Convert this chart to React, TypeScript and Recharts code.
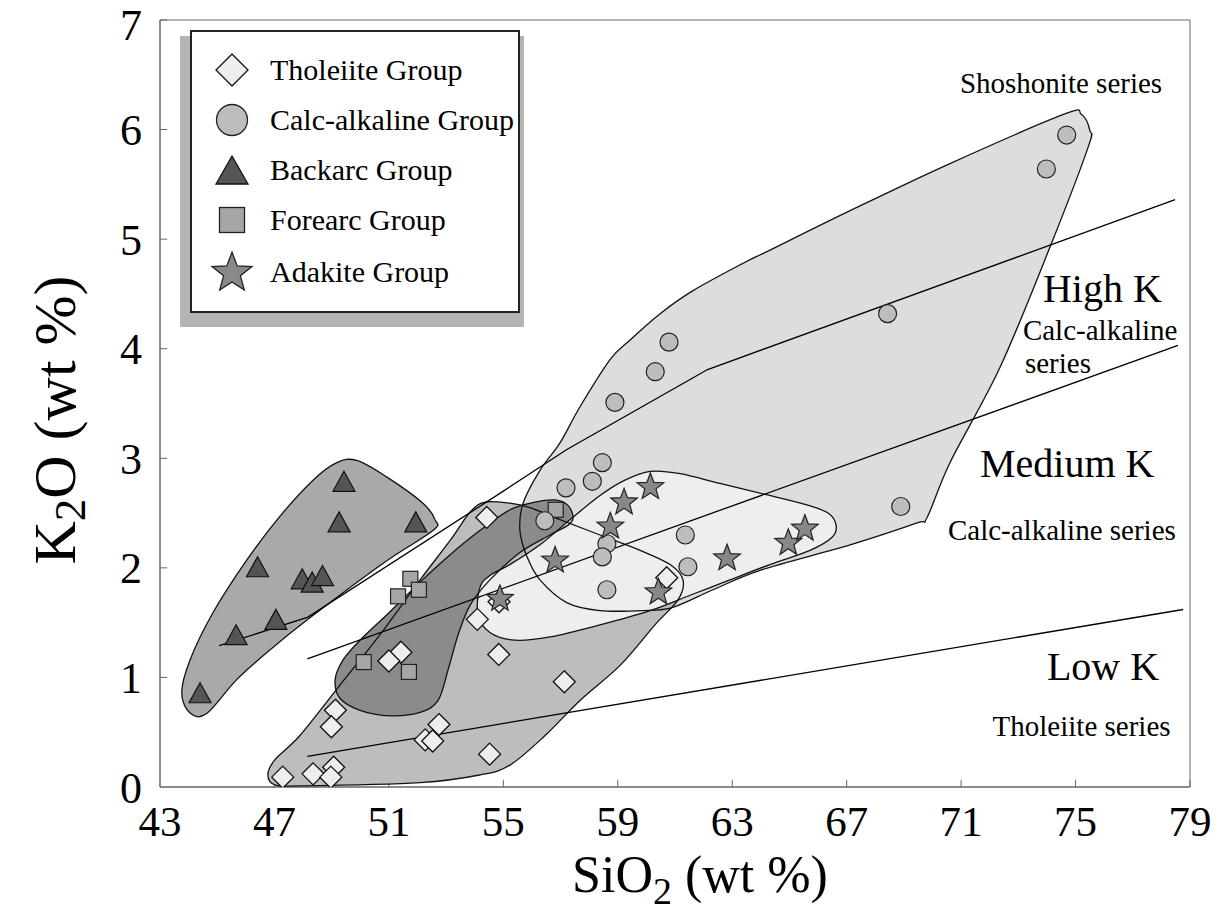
import React from 'react';
import {
  ScatterChart,
  Scatter,
  XAxis,
  YAxis,
  ReferenceLine,
  ReferenceArea,
  ReferenceDot,
} from 'recharts';

// SiO2 (wt %) vs K2O (wt %) sample values
const tholeiite = [
  [51.42, 1.23], [51.0, 1.15], [54.84, 1.21], [57.13, 0.96], [49.13, 0.7],
  [48.99, 0.55], [52.75, 0.57], [52.27, 0.43], [52.53, 0.42], [54.52, 0.3],
  [47.29, 0.09], [48.35, 0.12], [49.07, 0.18], [48.97, 0.09], [54.42, 2.46],
  [60.71, 1.91], [54.09, 1.53], [54.85, 1.69],
];
const calcAlkaline = [
  [58.9, 3.51], [58.46, 2.96], [58.11, 2.79], [57.19, 2.73], [56.45, 2.43],
  [61.36, 2.3], [58.62, 2.22], [58.46, 2.1], [61.45, 2.01], [58.62, 1.8],
  [60.79, 4.06], [60.31, 3.79], [74.69, 5.95], [73.98, 5.64], [68.43, 4.32],
  [68.89, 2.56],
];
const backarc = [
  [49.43, 2.79], [49.26, 2.42], [51.94, 2.42], [46.41, 2.01], [47.97, 1.9],
  [48.32, 1.87], [48.68, 1.93], [47.05, 1.53], [45.66, 1.39], [44.4, 0.86],
];
const forearc = [
  [51.75, 1.9], [51.32, 1.74], [52.05, 1.8], [50.12, 1.14], [51.7, 1.05], [56.83, 2.53],
];
const adakite = [
  [60.14, 2.75], [59.22, 2.61], [58.74, 2.39], [56.81, 2.08], [62.82, 2.1],
  [64.96, 2.24], [65.54, 2.37], [60.42, 1.79], [54.88, 1.73],
];

// group fields (outline vertices)
const calcField = [
  [55.58, 2.34], [55.69, 2.59], [56.28, 2.89], [56.98, 3.14], [57.68, 3.47],
  [58.73, 3.9], [59.43, 4.08], [60.48, 4.32], [61.63, 4.53], [63.38, 4.78],
  [64.32, 4.9], [67.12, 5.26], [70.61, 5.69], [74.6, 6.14], [75.2, 6.14],
  [75.5, 5.99], [75.44, 5.84], [74.11, 4.93], [72.36, 3.83], [70.61, 2.96],
  [69.81, 2.46], [69.46, 2.41], [67.12, 2.21], [64.0, 1.98], [62.33, 1.8],
  [60.93, 1.64], [59.88, 1.61], [58.38, 1.61], [57.23, 1.68], [56.28, 1.89],
  [55.83, 2.1],
];
const tholeiiteField = [
  [46.77, 0.11], [47.02, 0.25], [47.89, 0.47], [49.29, 0.93], [50.69, 1.39],
  [52.09, 1.89], [53.14, 2.25], [53.84, 2.51], [54.36, 2.6], [55.23, 2.59],
  [55.93, 2.55], [56.98, 2.44], [58.38, 2.3], [59.78, 2.16], [60.83, 2.03],
  [61.28, 1.89], [61.11, 1.71], [60.3, 1.48], [59.08, 1.11], [57.68, 0.79],
  [56.46, 0.47], [55.23, 0.2], [54.18, 0.11], [52.09, 0.04], [47.89, 0.01],
  [47.02, 0.02],
];
const backarcField = [
  [49.18, 2.96], [49.88, 2.98], [50.92, 2.83], [52.19, 2.59], [52.61, 2.44],
  [52.54, 2.34], [50.79, 2.04], [48.17, 1.53], [46.84, 1.25], [45.68, 0.98],
  [44.63, 0.67], [44.05, 0.675], [43.76, 0.86], [44.05, 1.16], [44.85, 1.59],
  [46.03, 2.07], [47.19, 2.47], [48.35, 2.8],
];
const forearcField = [
  [57.44, 2.46], [57.26, 2.57], [56.81, 2.62], [56.11, 2.6], [55.23, 2.53],
  [54.18, 2.34], [53.14, 2.12], [52.09, 1.87], [51.04, 1.6], [49.99, 1.34],
  [49.4, 1.16], [49.12, 0.98], [49.29, 0.81], [49.99, 0.7], [51.04, 0.65],
  [52.09, 0.68], [52.72, 0.79], [53.07, 1.07], [53.42, 1.39], [53.84, 1.66],
  [54.53, 1.89], [55.58, 2.14], [56.63, 2.3], [57.26, 2.39],
];
const adakiteField = [
  [54.18, 1.82], [54.53, 1.93], [55.23, 2.03], [56.28, 2.21], [57.33, 2.44],
  [58.38, 2.66], [59.25, 2.8], [60.13, 2.88], [61.18, 2.86], [62.57, 2.77],
  [64.15, 2.67], [65.54, 2.58], [66.35, 2.5], [66.63, 2.39], [66.49, 2.28],
  [65.72, 2.16], [64.32, 2.03], [62.92, 1.89], [61.53, 1.75], [60.13, 1.61],
  [58.38, 1.48], [56.63, 1.37], [55.41, 1.34], [54.53, 1.41], [54.11, 1.57],
];

// series boundaries
const lowMediumLine = [[48.15, 0.28], [78.76, 1.62]];
const mediumHighLine = [[48.15, 1.17], [78.58, 4.03]];
const highShoshLine = [
  [45.07, 1.29], [48.17, 1.55], [54.88, 2.68], [57.22, 3.08], [62.14, 3.81], [78.48, 5.36],
];

const xTicks = [43, 47, 51, 55, 59, 63, 67, 71, 75, 79];
const yTicks = [0, 1, 2, 3, 4, 5, 6, 7];

const SERIF = "'Liberation Serif', 'DejaVu Serif', serif";
const W = 1212;
const H = 919;

const pts = (a: number[][]) => a.map(([x, y]) => ({ x, y }));

// annotation anchors (data coords, text starts here)
const notes = [
  { x: 70.96, y: 6.33, text: 'Shoshonite series', size: 29 },
  { x: 73.86, y: 4.43, text: 'High K', size: 40 },
  { x: 73.16, y: 4.08, text: 'Calc-alkaline', size: 29 },
  { x: 73.23, y: 3.78, text: 'series', size: 29 },
  { x: 71.66, y: 2.83, text: 'Medium K', size: 40 },
  { x: 70.54, y: 2.25, text: 'Calc-alkaline series', size: 29 },
  { x: 74.0, y: 0.98, text: 'Low K', size: 40 },
  { x: 72.1, y: 0.47, text: 'Tholeiite series', size: 29 },
];

function closedPath(p: { x: number; y: number }[]) {
  const n = p.length;
  let d = `M${p[0].x},${p[0].y}`;
  for (let i = 0; i < n; i++) {
    const p0 = p[(i - 1 + n) % n];
    const p1 = p[i];
    const p2 = p[(i + 1) % n];
    const p3 = p[(i + 2) % n];
    const c1x = p1.x + (p2.x - p0.x) / 6;
    const c1y = p1.y + (p2.y - p0.y) / 6;
    const c2x = p2.x - (p3.x - p1.x) / 6;
    const c2y = p2.y - (p3.y - p1.y) / 6;
    d += `C${c1x},${c1y} ${c2x},${c2y} ${p2.x},${p2.y}`;
  }
  return d + 'Z';
}

const noMark = () => <g />;
const fieldFill = (fill: string) => (lp: any) => (
  <path d={closedPath(lp.points)} fill={fill} stroke="none" />
);
const fieldEdge = (lp: any) => (
  <path d={closedPath(lp.points)} fill="none" stroke="#111" strokeWidth={1.3} />
);

// markers
const diamondPts = (cx: number, cy: number, r: number) =>
  `${cx},${cy - r} ${cx + r},${cy} ${cx},${cy + r} ${cx - r},${cy}`;
const trianglePts = (cx: number, cy: number, w: number, h: number) =>
  `${cx},${cy - h / 2} ${cx + w / 2},${cy + h / 2} ${cx - w / 2},${cy + h / 2}`;
const starPts = (cx: number, cy: number, R: number) => {
  const r = R * 0.42;
  const out: string[] = [];
  for (let i = 0; i < 10; i++) {
    const a = -Math.PI / 2 + (i * Math.PI) / 5;
    const rr = i % 2 === 0 ? R : r;
    out.push(`${cx + rr * Math.cos(a)},${cy + rr * Math.sin(a) + R * 0.1}`);
  }
  return out.join(' ');
};

const DiamondMark = (p: any) => (
  <polygon points={diamondPts(p.cx, p.cy, 11)} fill="#eeeeee" stroke="#111" strokeWidth={1.3} />
);
const CircleMark = (p: any) => (
  <circle cx={p.cx} cy={p.cy} r={9} fill="#bdbdbd" stroke="#222" strokeWidth={1.2} />
);
const TriangleMark = (p: any) => (
  <polygon points={trianglePts(p.cx, p.cy, 22, 20)} fill="#555555" stroke="#111" strokeWidth={1.2} />
);
const SquareMark = (p: any) => (
  <rect x={p.cx - 7.5} y={p.cy - 7.5} width={15} height={15} fill="#a6a6a6" stroke="#222" strokeWidth={1.2} />
);
const StarMark = (p: any) => (
  <polygon points={starPts(p.cx, p.cy, 14)} fill="#888888" stroke="#222" strokeWidth={1.2} />
);

const legendRows = [
  { name: 'Tholeiite Group', icon: <polygon points={diamondPts(23, 23, 16)} fill="#eeeeee" stroke="#111" strokeWidth={1.3} /> },
  { name: 'Calc-alkaline Group', icon: <circle cx={23} cy={23} r={15.5} fill="#bdbdbd" stroke="#222" strokeWidth={1.3} /> },
  { name: 'Backarc Group', icon: <polygon points={trianglePts(23, 23, 32, 28)} fill="#555555" stroke="#111" strokeWidth={1.3} /> },
  { name: 'Forearc Group', icon: <rect x={10.5} y={10.5} width={25} height={25} fill="#a6a6a6" stroke="#222" strokeWidth={1.3} /> },
  { name: 'Adakite Group', icon: <polygon points={starPts(23, 22, 21)} fill="#888888" stroke="#222" strokeWidth={1.3} /> },
];
const legendRowY = [38, 88, 138, 188, 240];

function NoteLabel(props: any) {
  const { viewBox, value, size } = props;
  return (
    <text x={viewBox.x} y={viewBox.y} fontFamily={SERIF} fontSize={size} fill="#000">
      {value}
    </text>
  );
}

// y tick: the top label is nudged down a little so it stays inside the page
function YTick(props: any) {
  const { x, y, payload } = props;
  const v = payload.value;
  return (
    <text
      x={x}
      y={y + (v === 7 ? 4 : 0)}
      dy="0.355em"
      textAnchor="end"
      fontFamily={SERIF}
      fontSize={44}
      fill="#000"
    >
      {v}
    </text>
  );
}

export default function App() {
  return (
    <div style={{ position: 'relative', width: W, height: H, marginTop: -8, fontFamily: SERIF }}>
      <ScatterChart width={W} height={H} margin={{ top: 20, right: 30, bottom: 92, left: 92 }}>
        <XAxis
          type="number"
          dataKey="x"
          domain={[43, 79]}
          ticks={xTicks}
          interval={0}
          height={40}
          tickSize={0}
          tickMargin={18}
          axisLine={{ stroke: '#666' }}
          tick={{ fontSize: 43, fill: '#000', fontFamily: SERIF }}
          allowDataOverflow
          label={{
            content: () => (
              <text x={692} y={892} textAnchor="middle" fontFamily={SERIF} fontSize={52} fill="#000">
                SiO<tspan dy={12} fontSize={38}>2</tspan>
                <tspan dy={-12}> (wt %)</tspan>
              </text>
            ),
          }}
        />
        <YAxis
          type="number"
          dataKey="y"
          domain={[0, 7]}
          ticks={yTicks}
          interval={0}
          width={60}
          tickSize={0}
          tickMargin={18}
          axisLine={{ stroke: '#666' }}
          tick={<YTick />}
          allowDataOverflow
          label={{
            content: () => (
              <text
                x={47}
                y={420}
                transform="rotate(-90, 47, 420)"
                textAnchor="middle"
                dominantBaseline="central"
                fontFamily={SERIF}
                fontSize={60}
                fill="#000"
              >
                K<tspan dy={15} fontSize={45}>2</tspan>
                <tspan dy={-15}>O (wt %)</tspan>
              </text>
            ),
          }}
        />
        <ReferenceArea x1={43} x2={79} y1={0} y2={7} fill="none" stroke="#666" />

        {/* field fills */}
        <Scatter data={pts(calcField)} isAnimationActive={false} shape={noMark} line={fieldFill('#dddddd')} />
        <Scatter data={pts(tholeiiteField)} isAnimationActive={false} shape={noMark} line={fieldFill('#bdbdbd')} />
        <Scatter data={pts(backarcField)} isAnimationActive={false} shape={noMark} line={fieldFill('#a9a9a9')} />
        <Scatter data={pts(forearcField)} isAnimationActive={false} shape={noMark} line={fieldFill('#8b8b8b')} />
        <Scatter data={pts(adakiteField)} isAnimationActive={false} shape={noMark} line={fieldFill('#eeeeee')} />

        {/* field outlines */}
        <Scatter data={pts(calcField)} isAnimationActive={false} shape={noMark} line={fieldEdge} />
        <Scatter data={pts(tholeiiteField)} isAnimationActive={false} shape={noMark} line={fieldEdge} />
        <Scatter data={pts(backarcField)} isAnimationActive={false} shape={noMark} line={fieldEdge} />
        <Scatter data={pts(forearcField)} isAnimationActive={false} shape={noMark} line={fieldEdge} />
        <Scatter data={pts(adakiteField)} isAnimationActive={false} shape={noMark} line={fieldEdge} />

        {/* series boundaries */}
        <Scatter data={pts(lowMediumLine)} isAnimationActive={false} shape={noMark} line={{ stroke: '#000', strokeWidth: 1.3 }} />
        <Scatter data={pts(mediumHighLine)} isAnimationActive={false} shape={noMark} line={{ stroke: '#000', strokeWidth: 1.3 }} />
        <Scatter data={pts(highShoshLine)} isAnimationActive={false} shape={noMark} line={{ stroke: '#000', strokeWidth: 1.3 }} />

        {/* samples */}
        <Scatter name="Backarc Group" data={pts(backarc)} isAnimationActive={false} shape={TriangleMark} />
        <Scatter name="Forearc Group" data={pts(forearc)} isAnimationActive={false} shape={SquareMark} />
        <Scatter name="Tholeiite Group" data={pts(tholeiite)} isAnimationActive={false} shape={DiamondMark} />
        <Scatter name="Calc-alkaline Group" data={pts(calcAlkaline)} isAnimationActive={false} shape={CircleMark} />
        <Scatter name="Adakite Group" data={pts(adakite)} isAnimationActive={false} shape={StarMark} />

        {/* inside ticks */}
        {xTicks.slice(1).map((t) => (
          <ReferenceLine key={'xt' + t} segment={[{ x: t, y: 0 }, { x: t, y: 0.065 }]} stroke="#666" />
        ))}
        {yTicks.slice(1).map((t) => (
          <ReferenceLine key={'yt' + t} segment={[{ x: 43, y: t }, { x: 43.25, y: t }]} stroke="#666" />
        ))}

        {notes.map((n) => (
          <ReferenceDot
            key={n.text + n.y}
            x={n.x}
            y={n.y}
            r={0}
            fill="none"
            stroke="none"
            label={<NoteLabel value={n.text} size={n.size} />}
          />
        ))}
      </ScatterChart>

      {/* legend */}
      <div style={{ position: 'absolute', left: 172, top: 36, width: 344, height: 291, background: '#b4b4b4' }} />
      <div
        style={{
          position: 'absolute',
          left: 182,
          top: 30,
          width: 330,
          height: 283,
          boxSizing: 'border-box',
          border: '2px solid #222',
          background: '#fff',
        }}
      >
        {legendRows.map((row, i) => (
          <div key={row.name}>
            <svg
              width={46}
              height={46}
              style={{ position: 'absolute', left: 40 - 23, top: legendRowY[i] - 23 }}
            >
              {row.icon}
            </svg>
            <div
              style={{
                position: 'absolute',
                left: 78,
                top: legendRowY[i] - 18,
                lineHeight: '36px',
                fontSize: 30,
                whiteSpace: 'nowrap',
                color: '#000',
              }}
            >
              {row.name}
            </div>
          </div>
        ))}
      </div>
    </div>
  );
}
